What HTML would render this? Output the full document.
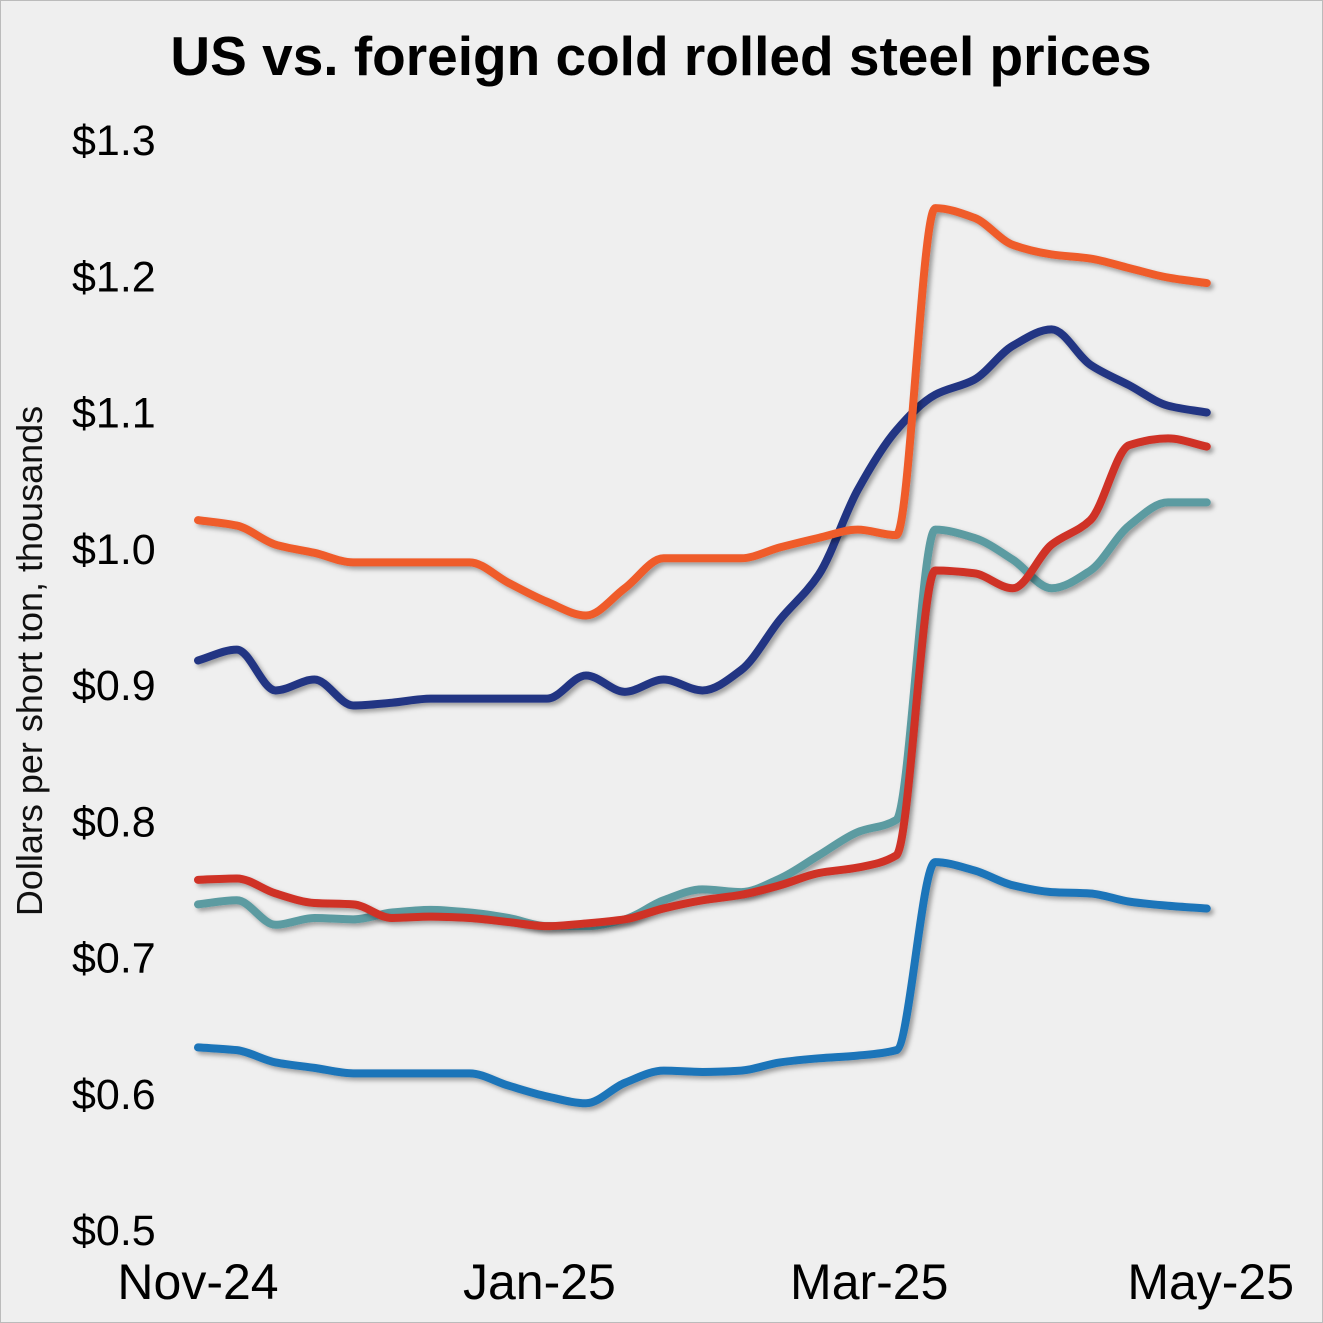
<!DOCTYPE html>
<html><head><meta charset="utf-8"><style>
html,body{margin:0;padding:0;background:#efefef;}
svg{display:block;font-family:"Liberation Sans",Arial,sans-serif;}
</style></head><body>
<svg id="chart" width="1323" height="1323" viewBox="0 0 1323 1323">
<defs><filter id="sh" x="-5%" y="-5%" width="110%" height="110%"><feDropShadow dx="3" dy="3" stdDeviation="2.5" flood-color="#000" flood-opacity="0.35"/></filter></defs>
<rect x="0.5" y="0.5" width="1322" height="1322" fill="#efefef" stroke="#bbb"/>
<text x="661" y="75" text-anchor="middle" font-size="55" font-weight="bold" fill="#000">US vs. foreign cold rolled steel prices</text>
<text transform="translate(42,661) rotate(-90)" text-anchor="middle" font-size="36" fill="#111">Dollars per short ton, thousands</text>
<g id="yticks"></g><g id="xticks"></g><g id="lines"></g>
</svg>
<script>
const yTicks=[0.5,0.6,0.7,0.8,0.9,1.0,1.1,1.2,1.3];
const xTickLabels=["Nov-24","Jan-25","Mar-25","May-25"];
const xTickWeeks=[0,8.8,17.3,26.1];
const orange=[1.021,1.017,1.003,0.997,0.990,0.990,0.990,0.990,0.975,0.961,0.951,0.971,0.993,0.993,0.993,1.001,1.008,1.014,1.010,1.250,1.243,1.223,1.216,1.213,1.206,1.199,1.195];
const navy=[0.918,0.926,0.896,0.904,0.885,0.887,0.890,0.890,0.890,0.890,0.907,0.895,0.904,0.896,0.911,0.948,0.981,1.043,1.087,1.113,1.124,1.149,1.161,1.135,1.120,1.105,1.100];
const red=[0.757,0.758,0.747,0.740,0.739,0.729,0.730,0.729,0.726,0.723,0.725,0.728,0.736,0.742,0.746,0.753,0.762,0.766,0.775,0.984,0.982,0.971,1.003,1.021,1.076,1.081,1.075];
const teal=[0.739,0.742,0.724,0.729,0.728,0.733,0.735,0.733,0.729,0.723,0.723,0.728,0.742,0.750,0.748,0.758,0.775,0.792,0.801,1.014,1.008,0.992,0.971,0.984,1.017,1.034,1.034];
const blue=[0.634,0.632,0.623,0.619,0.615,0.615,0.615,0.615,0.606,0.598,0.593,0.608,0.617,0.616,0.617,0.623,0.626,0.628,0.632,0.770,0.764,0.753,0.748,0.747,0.741,0.738,0.736];
const NS="http://www.w3.org/2000/svg";
const xs=w=>198+w*38.8;
const ys=v=>140+(1.3-v)*1362.5;
const yg=document.getElementById('yticks');
yTicks.forEach(v=>{const t=document.createElementNS(NS,'text');
t.setAttribute('x',72);t.setAttribute('y',ys(v)+15);t.setAttribute('font-size',43);t.setAttribute('fill','#000');
t.textContent='$'+v.toFixed(1);


yg.appendChild(t);});
const xg=document.getElementById('xticks');
xTickLabels.forEach((l,i)=>{const t=document.createElementNS(NS,'text');
t.setAttribute('x',xs(xTickWeeks[i]));t.setAttribute('y',1299);t.setAttribute('font-size',50);t.setAttribute('text-anchor','middle');t.setAttribute('fill','#000');
t.textContent=l;


xg.appendChild(t);});
function mono(pts){const n=pts.length,d=[],m=[];
for(let i=0;i<n-1;i++)d.push((pts[i+1][1]-pts[i][1])/(pts[i+1][0]-pts[i][0]));
m[0]=d[0];m[n-1]=d[n-2];
for(let i=1;i<n-1;i++)m[i]=(d[i-1]*d[i]<=0)?0:(2*d[i-1]*d[i]/(d[i-1]+d[i]));
let s='M'+pts[0][0]+','+pts[0][1];
for(let i=0;i<n-1;i++){const h=(pts[i+1][0]-pts[i][0])/3;
s+='C'+(pts[i][0]+h)+','+(pts[i][1]+m[i]*h)+' '+(pts[i+1][0]-h)+','+(pts[i+1][1]-m[i+1]*h)+' '+pts[i+1][0]+','+pts[i+1][1];}
return s;}
const lg=document.getElementById('lines');
[[blue,'#1b74b9','line-blue'],[teal,'#5b9ba1','line-teal'],[red,'#cf3128','line-red'],[navy,'#233683','line-navy'],[orange,'#ef5b2b','line-orange']].forEach(([arr,c,nm])=>{
const p=document.createElementNS(NS,'path');
p.setAttribute('d',mono(arr.map((v,i)=>[xs(i),ys(v)])));
p.setAttribute('fill','none');p.setAttribute('stroke',c);p.setAttribute('stroke-width',8);p.setAttribute('stroke-linecap','round');p.setAttribute('filter','url(#sh)');


lg.appendChild(p);});
</script>
</body></html>
